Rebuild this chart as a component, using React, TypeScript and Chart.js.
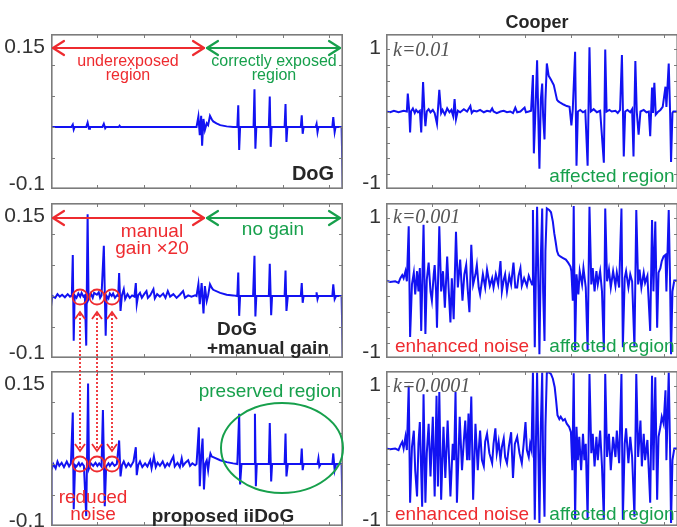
import React, { useEffect, useRef } from "react";
import { Chart, registerables } from "chart.js";

Chart.register(...registerables);

// ---------- axes ----------
const X_MIN = 0;
const X_MAX = 630;
const X_TICKS = [100, 200, 300, 400, 500, 600];
const DOG_MIN = -0.1;
const DOG_MAX = 0.15;
const DOG_TICKS = [-0.05, 0, 0.05, 0.1];
const COOPER_MIN = -1;
const COOPER_MAX = 1;
const COOPER_TICKS = [-0.8, -0.6, -0.4, -0.2, 0, 0.2, 0.4, 0.6, 0.8];
const DOG_LABELS = ["0.15", "-0.1"];
const COOPER_LABELS = ["1", "-1"];

// ---------- DoG ----------
const X_DOG = [0, 44, 47, 49, 51, 76, 79, 82, 84, 111, 114, 117, 119, 146, 148, 150, 314, 318, 321, 324, 326, 329, 332, 336, 339, 343, 347, 350, 357, 365, 379, 393, 402, 404, 406, 408, 437, 439, 441, 443, 470, 472, 474, 476, 504, 506, 508, 510, 539, 541, 543, 545, 571, 573, 575, 577, 607, 609, 612, 614, 627, 630];
const Y_DOG = [0, 0, 0.004, -0.004, 0, 0, 0.007, -0.003, 0, 0, 0.005, -0.002, 0, 0, 0.002, 0, 0, 0.017, -0.013, 0.018, -0.03, 0.013, -0.005, 0.006, 0.003, 0.018, 0.012, 0.009, 0.006, 0.003, 0.001, 0, 0, 0.035, -0.037, 0, 0, 0.061, -0.035, 0, 0, 0.049, -0.032, 0, 0, 0.037, -0.024, 0, 0, 0.019, -0.011, 0, 0, 0.005, -0.008, 0, 0, 0.016, -0.008, 0, 0, -0.12];

// ---------- DoG + manual gain ----------
const X_GAIN = [0, 3, 9, 14, 19, 24, 30, 36, 41, 45, 47, 49, 51, 55, 59, 63, 66, 70, 73, 76, 79, 81, 86, 90, 93, 99, 103, 106, 109, 114, 118, 120, 124, 127, 131, 134, 138, 142, 145, 147, 150, 153, 157, 160, 165, 170, 175, 180, 183, 185, 188, 192, 196, 201, 206, 209, 214, 221, 224, 229, 235, 242, 247, 252, 257, 264, 271, 278, 285, 289, 296, 303, 311, 314, 318, 321, 325, 329, 332, 336, 339, 343, 347, 350, 365, 379, 393, 402, 404, 406, 408, 436, 439, 441, 443, 470, 472, 475, 477, 504, 506, 508, 511, 539, 541, 543, 545, 572, 573, 575, 577, 607, 609, 612, 615, 627, 630];
const Y_GAIN = [-0.017, 0, -0.003, 0.003, -0.001, 0.002, -0.002, 0.003, -0.001, 0.001, 0.066, -0.072, 0.001, -0.003, 0.004, -0.001, 0.005, -0.001, 0.001, -0.08, 0.132, -0.005, 0.004, -0.003, 0.005, 0.002, 0.006, -0.003, 0.001, 0.081, -0.064, 0, -0.004, 0.004, 0, 0.004, -0.003, 0.001, 0, 0.037, -0.024, 0.001, 0.011, -0.005, 0.003, -0.003, 0.001, -0.001, 0.021, -0.013, 0.001, 0.005, -0.003, 0.003, 0.008, -0.003, 0.001, 0.011, -0.004, 0.003, -0.001, 0.004, -0.003, 0.008, -0.001, 0.003, -0.003, 0.002, 0.008, -0.003, 0.001, -0.001, 0.001, 0, 0.019, -0.013, 0.021, -0.028, 0.016, -0.008, 0.001, 0.019, 0.013, 0.01, 0.005, 0.002, 0.001, 0, 0.038, -0.032, 0, 0, 0.065, -0.033, 0, 0, 0.052, -0.031, 0, 0, 0.041, -0.024, 0, 0, 0.021, -0.011, 0, 0, 0.006, -0.005, 0, 0, 0.019, -0.005, 0, 0, -0.12];

// ---------- proposed iiDoG ----------
const X_IIDOG = [0, 1, 5, 10, 14, 18, 23, 28, 34, 39, 43, 47, 49, 52, 55, 60, 63, 67, 71, 76, 80, 82, 86, 91, 96, 100, 104, 109, 112, 116, 119, 124, 127, 132, 137, 142, 147, 150, 153, 157, 162, 167, 172, 178, 183, 185, 188, 192, 197, 203, 208, 214, 217, 222, 226, 230, 235, 241, 246, 251, 255, 260, 264, 267, 273, 278, 282, 285, 290, 296, 300, 305, 311, 314, 319, 321, 324, 327, 330, 333, 336, 339, 342, 344, 347, 350, 365, 379, 393, 402, 406, 408, 411, 438, 440, 442, 444, 470, 472, 475, 477, 504, 506, 508, 511, 539, 541, 543, 545, 575, 577, 579, 582, 607, 609, 612, 615, 627, 630];
const Y_IIDOG = [-0.1, -0.01, 0, -0.007, 0.004, -0.003, 0.002, -0.005, 0.004, -0.004, 0.001, 0.083, -0.073, -0.002, -0.004, 0.002, -0.003, 0.001, -0.003, -0.084, 0.13, -0.007, 0.001, -0.003, 0.002, -0.003, 0.001, -0.004, 0.087, -0.068, -0.004, 0.001, -0.003, 0.002, -0.003, 0, 0.038, -0.02, -0.002, 0.004, -0.005, 0.001, -0.004, 0.004, 0.027, -0.018, -0.002, 0.004, -0.005, 0.001, -0.004, 0.006, -0.007, 0.012, -0.005, 0.002, -0.003, 0.004, -0.005, 0.001, -0.003, 0.006, 0.012, -0.004, 0.002, -0.005, 0.009, -0.003, 0.002, 0.006, -0.003, 0.001, -0.002, 0, 0.059, -0.036, 0.012, 0.041, -0.041, 0.001, 0.006, -0.01, 0.009, 0.017, 0.012, 0.011, 0.006, 0.003, 0.001, 0, 0.081, -0.033, 0, 0, 0.081, -0.036, 0, 0, 0.066, -0.028, 0, 0, 0.049, -0.02, 0, 0, 0.025, -0.01, 0, 0, 0.009, -0.004, 0, 0, 0.017, -0.01, 0, 0, -0.12];

// ---------- Cooper k=0.01 ----------
const X_K1 = [0, 9, 17, 27, 38, 45, 47, 50, 52, 54, 58, 62, 65, 69, 73, 76, 80, 83, 85, 88, 92, 96, 101, 105, 110, 115, 119, 122, 127, 132, 137, 141, 145, 148, 151, 155, 160, 168, 175, 182, 185, 189, 196, 203, 211, 218, 225, 229, 232, 239, 247, 254, 261, 268, 274, 279, 283, 290, 299, 302, 308, 313, 317, 319, 322, 326, 329, 331, 334, 337, 339, 342, 344, 347, 351, 356, 362, 365, 369, 372, 377, 383, 390, 396, 400, 403, 408, 411, 414, 419, 425, 430, 435, 439, 442, 448, 455, 462, 470, 473, 476, 482, 487, 495, 500, 505, 509, 513, 516, 521, 527, 531, 534, 538, 541, 545, 549, 556, 562, 567, 570, 574, 576, 579, 582, 586, 592, 597, 603, 605, 610, 613, 615, 618, 620, 628];
const Y_K1 = [0, -0.01, 0.01, -0.01, 0.01, 0, 0.23, 0.02, -0.27, 0, 0.04, -0.02, 0.02, -0.01, 0.01, -0.27, 0.38, -0.02, -0.19, 0, 0.03, -0.01, 0.02, -0.02, -0.16, 0.28, -0.02, 0.02, -0.04, 0.04, -0.01, 0.02, -0.06, 0.16, -0.1, 0.01, -0.01, 0.03, 0, 0.07, -0.02, 0.01, 0, 0.02, -0.01, 0.01, 0, 0.04, 0, -0.02, 0, 0.01, -0.01, 0, -0.02, 0.05, -0.01, 0, 0.05, -0.01, 0, 0.01, 0.47, -0.54, -0.06, 0.66, -0.19, -0.74, 0.15, 0.36, -0.06, -0.36, 0.15, 0.62, 0.46, 0.41, 0.34, 0.26, 0.15, 0.13, 0.11, 0.09, 0.07, 0.06, -0.18, 0.03, 0.77, -0.7, 0, 0.02, -0.01, 0.01, -0.7, 0.83, 0, 0.03, -0.01, 0.01, -0.66, 0.8, 0, 0.02, 0, 0.01, -0.02, 0.02, 0.73, -0.58, 0, 0.02, -0.01, 0.03, -0.58, 0.65, 0, -0.3, 0, 0.02, -0.01, 0, -0.32, 0.31, -0.02, 0.37, -0.04, -0.01, 0.02, 0.06, 0.32, 0.06, 0.62, -0.02, -0.65, -0.02, 0, 0];

// ---------- Cooper k=0.001 ----------
const X_K2 = [0, 9, 20, 27, 31, 35, 38, 42, 45, 49, 52, 56, 60, 63, 67, 70, 73, 76, 81, 85, 88, 92, 96, 99, 103, 105, 108, 110, 115, 119, 123, 127, 132, 135, 139, 142, 146, 151, 155, 160, 165, 169, 173, 176, 180, 184, 188, 193, 196, 200, 203, 209, 214, 218, 224, 229, 232, 237, 242, 247, 250, 254, 257, 261, 266, 270, 275, 279, 283, 286, 290, 293, 298, 304, 308, 311, 315, 317, 321, 324, 326, 329, 331, 334, 337, 339, 342, 344, 347, 352, 356, 360, 363, 366, 369, 372, 376, 382, 388, 393, 398, 400, 403, 405, 408, 411, 415, 418, 423, 426, 431, 435, 439, 443, 446, 450, 454, 457, 462, 466, 470, 473, 477, 481, 485, 490, 495, 498, 503, 508, 511, 515, 518, 523, 527, 531, 536, 540, 544, 547, 551, 556, 559, 564, 570, 574, 577, 581, 585, 588, 592, 595, 599, 603, 605, 610, 613, 615, 618, 622, 628];
const Y_K2 = [0, -0.02, -0.01, -0.03, 0.03, 0.07, 0.03, 0.12, -0.01, 0.7, -0.73, -0.05, 0.1, -0.18, 0.12, -0.14, 0.16, -0.65, 0.72, -0.69, 0.01, 0.23, -0.14, -0.26, 0.08, 0.2, -0.14, -0.61, 0.7, -0.14, 0.12, -0.35, 0.31, -0.09, -0.54, 0.03, -0.5, 0.63, -0.09, 0.27, -0.26, 0.08, 0.2, -0.09, -0.41, 0.46, -0.05, 0.08, 0.2, -0.09, -0.18, 0.08, -0.09, 0.14, -0.07, 0.03, -0.09, 0.08, -0.05, 0.25, -0.14, 0.01, 0.08, -0.14, 0.06, -0.05, 0.23, -0.09, -0.09, 0.06, 0.16, -0.07, 0.03, -0.07, 0.06, 0.01, -0.05, 0.91, -0.86, 0.29, 0.95, -0.14, -0.95, 0.29, 0.93, -0.14, -0.78, 0.38, 0.93, 0.91, 0.88, 0.76, 0.61, 0.5, 0.38, 0.33, 0.31, 0.29, 0.27, 0.23, 0.18, 0.12, -0.26, 0.96, -0.9, 0.08, -0.18, 0.12, -0.05, 0.16, -0.09, -0.9, 0.95, -0.05, 0.16, -0.14, 0.12, -0.05, 0.12, -0.14, -0.9, 0.93, -0.01, 0.14, -0.09, 0.12, -0.07, 0.1, -0.09, 0.93, -0.86, 0.03, 0.12, -0.09, 0.08, -0.01, -0.86, 0.91, -0.05, 0.14, -0.09, 0.1, -0.03, 0.06, -0.65, 0.78, -0.14, 0.76, -0.61, 0.1, 0.16, 0.25, 0.31, 0.33, -0.14, 0.91, -0.05, -0.95, -0.14, 0, 0];

// ---------- Cooper k=0.0001 ----------
const X_K3 = [0, 9, 20, 27, 31, 35, 38, 42, 45, 49, 52, 56, 60, 63, 67, 70, 73, 78, 81, 85, 88, 92, 96, 99, 101, 105, 109, 112, 115, 119, 124, 128, 133, 139, 144, 147, 150, 153, 157, 159, 164, 168, 171, 175, 178, 180, 184, 188, 193, 198, 201, 203, 207, 211, 214, 218, 223, 229, 232, 236, 239, 243, 247, 250, 254, 257, 261, 265, 270, 274, 278, 283, 288, 293, 297, 301, 304, 308, 311, 314, 317, 321, 324, 326, 329, 331, 334, 337, 339, 342, 344, 347, 352, 356, 360, 364, 367, 370, 374, 377, 382, 386, 390, 395, 399, 402, 405, 408, 411, 414, 417, 421, 425, 428, 431, 435, 439, 443, 446, 450, 454, 457, 462, 466, 470, 473, 477, 481, 485, 490, 495, 498, 503, 508, 511, 515, 518, 523, 527, 531, 536, 540, 544, 549, 552, 556, 559, 564, 570, 574, 577, 581, 585, 588, 592, 595, 599, 603, 605, 610, 613, 615, 618, 622, 628];
const Y_K3 = [0, -0.01, 0, -0.02, 0.04, 0.085, 0, 0.15, -0.02, 0.81, -0.7, 0.02, 0.23, -0.28, -0.62, 0.06, 0.34, -0.75, 0.7, -0.7, -0.06, 0.32, -0.36, 0.11, 0.41, -0.62, 0.68, -0.49, 0.73, -0.66, 0.28, -0.38, 0.36, -0.62, 0.06, -0.15, 0.73, -0.7, 0.02, 0.41, -0.28, 0.11, 0.36, -0.15, 0.45, -0.15, 0.67, -0.66, 0.32, -0.28, 0.06, 0.23, -0.15, -0.23, 0.09, 0.19, -0.06, -0.19, 0.06, 0.26, -0.06, 0.09, -0.15, 0.02, 0.13, -0.11, -0.19, 0.02, 0.21, -0.38, 0.06, 0.15, -0.06, -0.19, 0.06, 0.34, -0.02, -0.11, 0.06, -0.02, 0.98, -0.92, 0.28, 0.98, -0.15, -0.96, 0.28, 0.98, -0.15, -0.88, 0.28, 0.98, 0.98, 0.96, 0.9, 0.79, 0.62, 0.43, 0.38, 0.41, 0.36, 0.38, 0.32, 0.28, 0.21, -0.28, 0.97, -0.92, 0.28, -0.15, 0.15, -0.28, 0.19, -0.15, 0.06, -0.92, 0.96, -0.06, 0.19, -0.23, 0.15, -0.15, 0.23, -0.23, -0.92, 0.96, -0.11, 0.19, -0.28, 0.15, -0.11, 0.23, -0.19, 0.96, -0.92, 0.06, 0.26, -0.19, 0.15, -0.11, -0.88, 0.96, -0.11, 0.36, -0.23, 0.19, -0.15, 0.11, -0.7, 0.94, -0.28, 0.92, -0.66, 0.15, 0.28, 0.41, 0.32, 0.75, -0.15, 0.98, -0.06, -0.96, -0.15, 0, 0];

// ---------- styling ----------
const RED = "#ee2b2f";
const GREEN = "#17a04c";
const DARK = "#262626";
const LINE = "#1212f2";
const FRAME = "#7c7c7c";
const SANS = "'Liberation Sans', Arial, Helvetica, sans-serif";
const SERIF = "'Liberation Serif', 'Times New Roman', serif";

const LEFT_X = 51;
const RIGHT_X = 386;
const PANEL_W = 292;
const PANEL_H = 155;
const ROW_TOPS = [34, 203, 371];

type PanelProps = {
  left: number;
  top: number;
  xs: number[];
  ys: number[];
  yMin: number;
  yMax: number;
  yTicks: number[];
};

function Panel({ left, top, xs, ys, yMin, yMax, yTicks }: PanelProps) {
  const ref = useRef<HTMLCanvasElement | null>(null);
  useEffect(() => {
    if (!ref.current) return;
    const n = Math.min(xs.length, ys.length);
    const points = [];
    for (let i = 0; i < n; i++) points.push({ x: xs[i], y: ys[i] });
    const framePlugin = {
      id: "frameTicks",
      afterDatasetsDraw(chart: any) {
        const { ctx, chartArea: a, scales } = chart;
        ctx.save();
        ctx.strokeStyle = FRAME;
        ctx.lineWidth = 1;
        ctx.beginPath();
        X_TICKS.forEach((v) => {
          const px = Math.round(scales.x.getPixelForValue(v)) + 0.5;
          ctx.moveTo(px, a.top);
          ctx.lineTo(px, a.top + 4);
          ctx.moveTo(px, a.bottom);
          ctx.lineTo(px, a.bottom - 4);
        });
        yTicks.forEach((v) => {
          const py = Math.round(scales.y.getPixelForValue(v)) + 0.5;
          ctx.moveTo(a.left, py);
          ctx.lineTo(a.left + 4, py);
          ctx.moveTo(a.right, py);
          ctx.lineTo(a.right - 4, py);
        });
        ctx.stroke();
        ctx.lineWidth = 1.6;
        ctx.strokeRect(a.left + 0.8, a.top + 0.8, a.width - 1.6, a.height - 1.6);
        ctx.restore();
      },
    };
    const chart = new Chart(ref.current, {
      type: "line",
      data: {
        datasets: [
          {
            data: points,
            borderColor: LINE,
            borderWidth: 2,
            pointRadius: 0,
            tension: 0,
            fill: false,
          },
        ],
      },
      options: {
        animation: false,
        responsive: false,
        maintainAspectRatio: false,
        layout: { padding: 0 },
        plugins: { legend: { display: false }, tooltip: { enabled: false } },
        scales: {
          x: { type: "linear", min: X_MIN, max: X_MAX, display: false },
          y: { type: "linear", min: yMin, max: yMax, display: false },
        },
      },
      plugins: [framePlugin],
    } as any);
    return () => chart.destroy();
  }, []);
  return (
    <canvas
      ref={ref}
      width={PANEL_W}
      height={PANEL_H}
      style={{ position: "absolute", left, top, width: PANEL_W, height: PANEL_H }}
    />
  );
}

function Arrow({ x1, x2, y, color }: { x1: number; x2: number; y: number; color: string }) {
  return (
    <g stroke={color} strokeWidth={2.2} fill="none" strokeLinecap="round" strokeLinejoin="round">
      <line x1={x1} y1={y} x2={x2} y2={y} />
      <polyline points={`${x1 + 11},${y - 7} ${x1},${y} ${x1 + 11},${y + 7}`} />
      <polyline points={`${x2 - 11},${y - 7} ${x2},${y} ${x2 - 11},${y + 7}`} />
    </g>
  );
}

function T({ x, y, children, size = 19, color = RED, weight = "normal", anchor = "middle", family = SANS, italic = false }: any) {
  return (
    <text
      x={x}
      y={y}
      fill={color}
      fontSize={size}
      fontWeight={weight}
      fontFamily={family}
      fontStyle={italic ? "italic" : "normal"}
      textAnchor={anchor}
      dominantBaseline="central"
    >
      {children}
    </text>
  );
}

export default function App() {
  const circleXs = [80, 97, 112];
  return (
    <div style={{ position: "absolute", left: 0, top: 0, width: 677, height: 527, background: "#fff", overflow: "hidden" }}>
      <Panel left={LEFT_X} top={ROW_TOPS[0]} xs={X_DOG} ys={Y_DOG} yMin={DOG_MIN} yMax={DOG_MAX} yTicks={DOG_TICKS} />
      <Panel left={LEFT_X} top={ROW_TOPS[1]} xs={X_GAIN} ys={Y_GAIN} yMin={DOG_MIN} yMax={DOG_MAX} yTicks={DOG_TICKS} />
      <Panel left={LEFT_X} top={ROW_TOPS[2]} xs={X_IIDOG} ys={Y_IIDOG} yMin={DOG_MIN} yMax={DOG_MAX} yTicks={DOG_TICKS} />
      <Panel left={RIGHT_X} top={ROW_TOPS[0]} xs={X_K1} ys={Y_K1} yMin={COOPER_MIN} yMax={COOPER_MAX} yTicks={COOPER_TICKS} />
      <Panel left={RIGHT_X} top={ROW_TOPS[1]} xs={X_K2} ys={Y_K2} yMin={COOPER_MIN} yMax={COOPER_MAX} yTicks={COOPER_TICKS} />
      <Panel left={RIGHT_X} top={ROW_TOPS[2]} xs={X_K3} ys={Y_K3} yMin={COOPER_MIN} yMax={COOPER_MAX} yTicks={COOPER_TICKS} />
      <svg width={677} height={527} style={{ position: "absolute", left: 0, top: 0, pointerEvents: "none" }}>
        {/* y labels */}
        {ROW_TOPS.map((t, i) => (
          <g key={"yl" + i}>
            <T x={45} y={t + 11} size={21} color="#333" anchor="end">{DOG_LABELS[0]}</T>
            <T x={45} y={t + PANEL_H - 7} size={21} color="#333" anchor="end">{DOG_LABELS[1]}</T>
            <T x={381} y={t + 12} size={21} color="#333" anchor="end">{COOPER_LABELS[0]}</T>
            <T x={381} y={t + PANEL_H - 8} size={21} color="#333" anchor="end">{COOPER_LABELS[1]}</T>
          </g>
        ))}
        {/* title */}
        <T x={537} y={22} size={18} color={DARK} weight="bold">Cooper</T>

        {/* row 1 left */}
        <Arrow x1={53} x2={204} y={48} color={RED} />
        <Arrow x1={207} x2={340} y={48} color={GREEN} />
        <T x={128} y={60} size={16} color={RED}>underexposed</T>
        <T x={128} y={74} size={16} color={RED}>region</T>
        <T x={274} y={60} size={16} color={GREEN}>correctly exposed</T>
        <T x={274} y={74} size={16} color={GREEN}>region</T>
        <T x={313} y={173} size={20} color={DARK} weight="bold">DoG</T>

        {/* row 2 left */}
        <Arrow x1={53} x2={204} y={218} color={RED} />
        <Arrow x1={207} x2={340} y={218} color={GREEN} />
        <T x={152} y={230} size={19} color={RED}>manual</T>
        <T x={152} y={247} size={19} color={RED}>gain ×20</T>
        <T x={273} y={228} size={19} color={GREEN}>no gain</T>
        <T x={237} y={328} size={19} color={DARK} weight="bold">DoG</T>
        <T x={268} y={347} size={19} color={DARK} weight="bold">+manual gain</T>
        {circleXs.map((cx) => (
          <circle key={"c2" + cx} cx={cx} cy={297} r={7.5} stroke={RED} strokeWidth={1.8} fill="none" />
        ))}
        {circleXs.map((cx) => (
          <g key={"da" + cx} stroke={RED} strokeWidth={1.8} fill="none">
            <line x1={cx} y1={314} x2={cx} y2={449} strokeDasharray="2 2" />
            <polyline points={`${cx - 5},${319} ${cx},${312} ${cx + 5},${319}`} />
            <polyline points={`${cx - 5},${444} ${cx},${451} ${cx + 5},${444}`} />
          </g>
        ))}

        {/* row 3 left */}
        {circleXs.map((cx) => (
          <circle key={"c3" + cx} cx={cx} cy={464} r={7.5} stroke={RED} strokeWidth={1.8} fill="none" />
        ))}
        <T x={270} y={390} size={19} color={GREEN}>preserved region</T>
        <ellipse cx={282} cy={448} rx={61} ry={45} stroke={GREEN} strokeWidth={2} fill="none" />
        <T x={93} y={496} size={19} color={RED}>reduced</T>
        <T x={93} y={513} size={19} color={RED}>noise</T>
        <T x={223} y={515} size={19} color={DARK} weight="bold">proposed iiDoG</T>

        {/* right column */}
        <T x={393} y={49} size={20} color="#555" anchor="start" family={SERIF} italic>k=0.01</T>
        <T x={393} y={216} size={20} color="#555" anchor="start" family={SERIF} italic>k=0.001</T>
        <T x={393} y={385} size={20} color="#555" anchor="start" family={SERIF} italic>k=0.0001</T>
        <T x={612} y={175} size={19} color={GREEN}>affected region</T>
        <T x={612} y={345} size={19} color={GREEN}>affected region</T>
        <T x={612} y={513} size={19} color={GREEN}>affected region</T>
        <T x={462} y={345} size={19} color={RED}>enhanced noise</T>
        <T x={462} y={513} size={19} color={RED}>enhanced noise</T>
      </svg>
    </div>
  );
}
